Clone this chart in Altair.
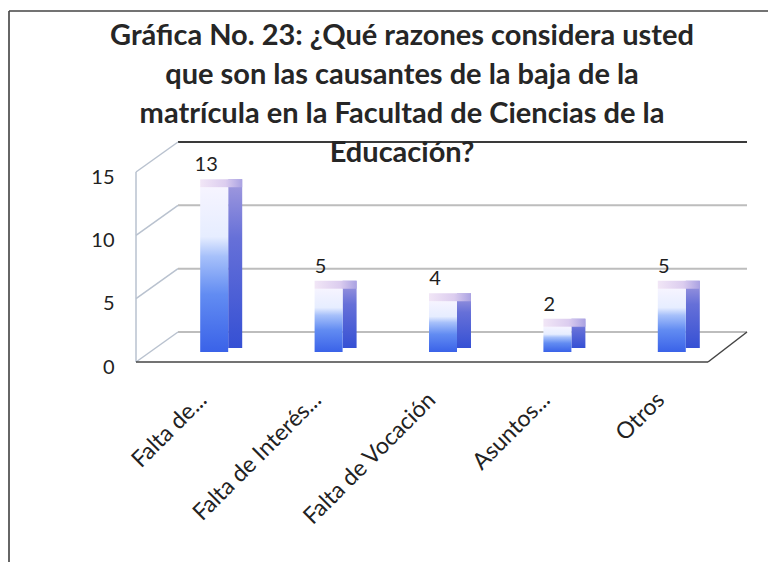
import altair as alt
import pandas as pd

# ---- data ----
categories = ["Falta de...", "Falta de Interés...", "Falta de Vocación", "Asuntos...", "Otros"]
values = [13, 5, 4, 2, 5]
tick_values = [0, 5, 10, 15]
title_lines = [
    "Gráfica No. 23: ¿Qué razones considera usted",
    "que son las causantes de la baja  de la",
    "matrícula en la Facultad de Ciencias de la",
    "Educación?",
]

bars = pd.DataFrame({"cat": categories, "val": values, "base": [0] * len(values)})
grid = pd.DataFrame({"v": tick_values})
one = pd.DataFrame({"k": [0]})
title_df = pd.DataFrame({"t": [title_lines]})

W, H = 572, 190          # front plane of the plot
DX, DY = 42, -30         # 3-D depth offset of the back wall
FONT = "Lato"

yscale = alt.Scale(domain=[0, 15], nice=False, zero=True)
xscale = alt.Scale(domain=categories, paddingInner=0, paddingOuter=0)

x_axis = alt.Axis(
    title=None, labelAngle=-45, labelAlign="right", labelBaseline="middle",
    labelPadding=34, labelOffset=10, ticks=False, domain=False, grid=False,
    labelFont=FONT, labelFontSize=23, labelColor="#222",
)
y_axis = alt.Axis(
    title=None, values=tick_values, grid=False, ticks=False, domain=False,
    labelPadding=22, labelFont=FONT, labelFontSize=20, labelColor="#222",
    labelOffset=5,
)

X = alt.X("cat:N", sort=categories, scale=xscale, axis=x_axis)
Y = alt.Y("val:Q", scale=yscale, axis=y_axis)
YV = alt.Y("v:Q", scale=yscale, axis=y_axis)

# back wall gridlines
back_grid = alt.Chart(grid).mark_rule(strokeWidth=2, yOffset=DY).encode(
    y=YV,
    x=alt.value(DX),
    x2=alt.value(W + 39),
    color=alt.condition(alt.datum.v == 15, alt.value("#3a3a3a"), alt.value("#bdbdbd")),
)

# left wall diagonals
diag = alt.Chart(grid).mark_rule(strokeWidth=1.5, y2Offset=DY, color="#b9c2cf").encode(
    y=YV,
    y2=alt.Y2("v"),
    x=alt.value(0),
    x2=alt.value(DX),
)

left_edge = alt.Chart(one).mark_rule(strokeWidth=1.5, color="#b9c2cf").encode(
    x=alt.value(0), y=alt.value(0), y2=alt.value(H)
)
floor_front = alt.Chart(one).mark_rule(strokeWidth=1.5, color="#444").encode(
    x=alt.value(0), x2=alt.value(W), y=alt.value(H)
)
floor_right = alt.Chart(one).mark_rule(strokeWidth=1.5, color="#444").encode(
    x=alt.value(W), x2=alt.value(W + 39), y=alt.value(H), y2=alt.value(H + DY)
)

# outer frame (left and top)
frame_left = alt.Chart(one).mark_rule(strokeWidth=1.5, color="#333").encode(
    x=alt.value(-127), y=alt.value(-161), y2=alt.value(410)
)
frame_top = alt.Chart(one).mark_rule(strokeWidth=1.5, color="#444").encode(
    x=alt.value(-127), x2=alt.value(640), y=alt.value(-161)
)

# chart title (multi-line)
title = alt.Chart(title_df).mark_text(
    font=FONT, fontSize=29, fontWeight="bold", color="#262626",
    lineHeight=39, align="center", baseline="top",
).encode(text="t", x=alt.value(266), y=alt.value(-150))

front_grad = alt.Gradient(
    gradient="linear", x1=0, y1=0, x2=0, y2=1,
    stops=[
        alt.GradientStop(color="#f6f4ff", offset=0),
        alt.GradientStop(color="#e6edff", offset=0.3),
        alt.GradientStop(color="#a6c0fa", offset=0.42),
        alt.GradientStop(color="#628cf2", offset=0.65),
        alt.GradientStop(color="#3a62e8", offset=1),
    ],
)
side_grad = alt.Gradient(
    gradient="linear", x1=0, y1=0, x2=0, y2=1,
    stops=[
        alt.GradientStop(color="#a39bde", offset=0),
        alt.GradientStop(color="#6670d8", offset=0.35),
        alt.GradientStop(color="#3550d4", offset=1),
    ],
)
cap_grad = alt.Gradient(
    gradient="linear", x1=0, y1=0, x2=1, y2=0,
    stops=[
        alt.GradientStop(color="#f1e6f6", offset=0),
        alt.GradientStop(color="#dccdef", offset=0.6),
        alt.GradientStop(color="#aaa2e2", offset=1),
    ],
)

side = alt.Chart(bars).mark_bar(width=14, xOffset=42, yOffset=-18, y2Offset=-14, color=side_grad).encode(
    x=X, y=Y, y2=alt.Y2("base")
)
front = alt.Chart(bars).mark_bar(width=28, xOffset=21, yOffset=-10, y2Offset=-10, color=front_grad).encode(
    x=X, y=Y, y2=alt.Y2("base")
)
cap = alt.Chart(bars).mark_bar(width=42, xOffset=28, yOffset=-18, y2Offset=-10, color=cap_grad).encode(
    x=X, y=Y, y2=alt.Y2("val")
)
labels = alt.Chart(bars).mark_text(
    dx=13, dy=-32, baseline="middle", align="center", font=FONT, fontSize=20, color="#1e1e1e"
).encode(x=X, y=Y, text=alt.Text("val:Q"))

chart = alt.layer(
    frame_left, frame_top, back_grid, diag, left_edge, floor_front, floor_right,
    side, front, cap, labels, title,
).properties(
    width=W, height=H,
    autosize=alt.AutoSizeParams(type="none"),
    padding={"left": 128, "top": 164, "right": 60, "bottom": 200},
    background="white",
).configure_view(stroke=None)

chart.save("out.html", embed_options={"renderer": "svg", "actions": False})
